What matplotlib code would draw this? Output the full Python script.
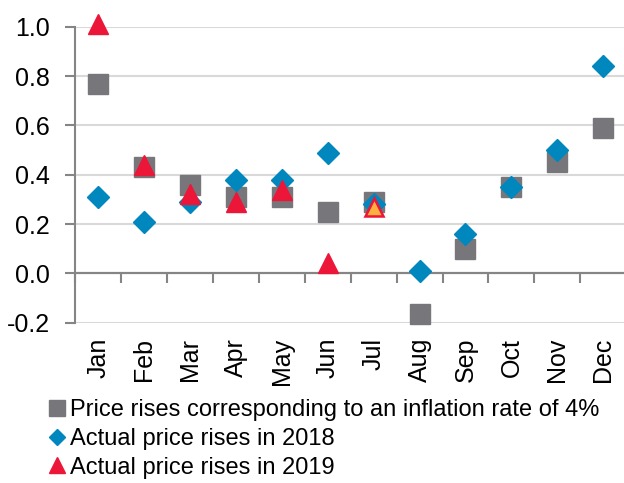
import matplotlib.pyplot as plt
import numpy as np
from matplotlib.lines import Line2D

plt.rcParams['font.family'] = ['Liberation Sans', 'DejaVu Sans']

months = ['Jan', 'Feb', 'Mar', 'Apr', 'May', 'Jun', 'Jul', 'Aug', 'Sep', 'Oct', 'Nov', 'Dec']
# price rises corresponding to an inflation rate of 4%
target = [0.77, 0.43, 0.36, 0.31, 0.31, 0.25, 0.29, -0.165, 0.10, 0.35, 0.45, 0.59]
# actual price rises in 2018
actual_2018 = [0.31, 0.21, 0.29, 0.38, 0.38, 0.49, 0.28, 0.01, 0.16, 0.35, 0.50, 0.84]
# actual price rises in 2019 (Jan to Jul)
actual_2019 = [1.01, 0.44, 0.32, 0.29, 0.34, 0.04, 0.27]

labels = ['Price rises corresponding to an inflation rate of 4%',
          'Actual price rises in 2018',
          'Actual price rises in 2019']

grey = '#77777b'
blue = '#0087be'
red = '#ec1639'
orange = '#fbb040'
axis_grey = '#858585'

fig = plt.figure(figsize=(6.24, 4.83), dpi=100)
ax = fig.add_axes([0.1205, 0.332, 0.883, 0.6125])

x = np.arange(len(months))
ax.plot(x, target, 's', ms=14, color=grey, clip_on=False, zorder=3)
ax.plot(x, actual_2018, 'D', ms=11.5, color=blue, clip_on=False, zorder=4)
x19 = np.arange(len(actual_2019))
ax.plot(x19[:-1], actual_2019[:-1], '^', ms=14, color=red, clip_on=False, zorder=5)
ax.plot(x19[-1:], actual_2019[-1:], '^', ms=13, mfc=orange, mec=red, mew=1.8,
        clip_on=False, zorder=5)

ax.set_xlim(-0.5, 11.5)
ax.set_ylim(-0.2, 1.0)
ax.set_yticks(np.arange(-0.2, 1.01, 0.2))
ax.set_yticklabels(['%.1f' % v for v in np.arange(-0.2, 1.01, 0.2)])
ax.grid(axis='y', color='#d9d9d9', lw=1.5)
ax.set_axisbelow(True)
ax.axhline(0, color=axis_grey, lw=1.5, zorder=1)

for s in ['top', 'right', 'bottom']:
    ax.spines[s].set_visible(False)
ax.spines['left'].set_color(axis_grey)
ax.spines['left'].set_linewidth(1.5)
ax.tick_params(axis='y', length=7, width=1.5, color=axis_grey, labelsize=18, pad=11)

ax.set_xticks(x)
ax.set_xticklabels(months, rotation=90, fontsize=18)
ax.tick_params(axis='x', length=0, pad=11)

# x axis line sits at zero with ticks between categories
sec = ax.secondary_xaxis(1 / 6)
sec.set_xticks(np.arange(-0.5, 11.6, 1))
sec.set_xticklabels([])
sec.spines['bottom'].set_color(axis_grey)
sec.spines['bottom'].set_linewidth(1.5)
sec.tick_params(axis='x', length=7, width=1.5, color=axis_grey, direction='out')

handles = [Line2D([], [], ls='', marker='s', ms=11, color=grey),
           Line2D([], [], ls='', marker='D', ms=8.5, color=blue),
           Line2D([], [], ls='', marker='^', ms=11, color=red)]
fig.legend(handles, labels, loc='upper left', bbox_to_anchor=(0.075, 0.173),
           frameon=False, fontsize=17, handlelength=0.9, handletextpad=0.1,
           labelspacing=0.28, borderpad=0, borderaxespad=0)

fig.savefig('out.png', dpi=100)
